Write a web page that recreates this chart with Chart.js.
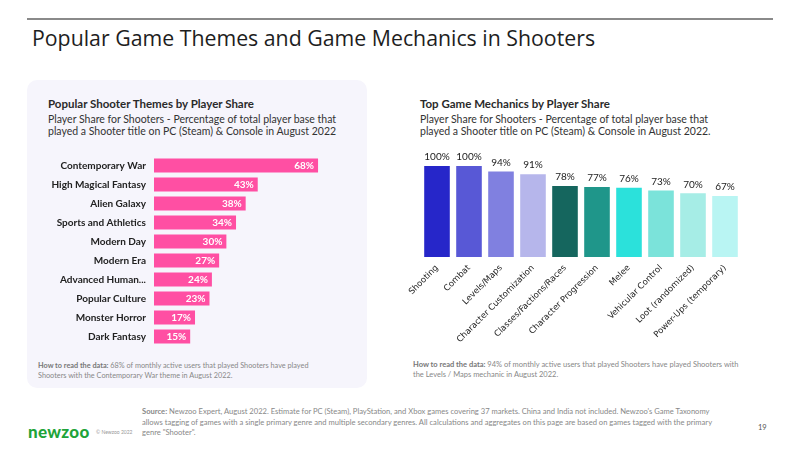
<!DOCTYPE html>
<html>
<head>
<meta charset="utf-8">
<script src="https://cdn.jsdelivr.net/npm/chart.js@4.4.0/dist/chart.umd.min.js"></script>
<style>
  body { margin: 0; width: 800px; height: 449px; background: #fff; position: relative; overflow: hidden; font-family: Lato, "Noto Sans", sans-serif; color: #222; }
  .abs { position: absolute; white-space: nowrap; }
  #rule { left: 27px; top: 18px; width: 746px; height: 2px; background: #8a8a8a; }
  #title { left: 32px; top: 23px; font-family: "Open Sans", sans-serif; font-size: 21.3px; color: #1e1e1e; }
  #panel { left: 27px; top: 80px; width: 340px; height: 308px; background: #f6f5fc; border-radius: 10px; }
  .h { font-size: 11.5px; font-weight: bold; color: #2a2a2a; }
  .sub { font-size: 10.5px; line-height: 11.5px; color: #333; }
  .note { font-size: 7.5px; line-height: 9.5px; color: #888; }
  .note b { color: #777; }
  #src { left: 142px; top: 406px; font-size: 7.6px; line-height: 10.5px; color: #888; }
  #logo { left: 28px; top: 421px; font-size: 17px; font-weight: 900; color: #1fa43a; letter-spacing: 0.3px; }
  #copy { left: 96px; top: 429px; font-size: 5px; color: #999; }
  #page { left: 758px; top: 423px; font-size: 7.5px; color: #555; }
  canvas { position: absolute; }
</style>
</head>
<body>
<div class="abs" id="rule"></div>
<div class="abs" id="title">Popular Game Themes and Game Mechanics in Shooters</div>
<div class="abs" id="panel"></div>

<div class="abs h" style="left:48px;top:97px;">Popular Shooter Themes by Player Share</div>
<div class="abs sub" style="left:48px;top:114px;">Player Share for Shooters - Percentage of total player base that<br>played a Shooter title on PC (Steam) &amp; Console in August 2022</div>

<div class="abs h" style="left:420px;top:97px;">Top Game Mechanics by Player Share</div>
<div class="abs sub" style="left:420px;top:114px;">Player Share for Shooters - Percentage of total player base that<br>played a Shooter title on PC (Steam) &amp; Console in August 2022.</div>

<canvas id="themes" style="left:30px;top:156px;" width="317" height="190"></canvas>
<canvas id="mechanics" style="left:391px;top:150px;" width="350" height="207"></canvas>

<div class="abs note" style="left:38px;top:361px;font-size:7.3px;"><b>How to read the data:</b> 68% of monthly active users that played Shooters have played<br>Shooters with the Contemporary War theme in August 2022.</div>
<div class="abs note" style="left:413px;top:360px;"><b>How to read the data:</b> 94% of monthly active users that played Shooters have played Shooters with<br>the Levels / Maps mechanic in August 2022.</div>

<div class="abs" id="src"><b>Source:</b> Newzoo Expert, August 2022. Estimate for PC (Steam), PlayStation, and Xbox games covering 37 markets. China and India not included. Newzoo's Game Taxonomy<br>allows tagging of games with a single primary genre and multiple secondary genres. All calculations and aggregates on this page are based on games tagged with the primary<br>genre "Shooter".</div>
<div class="abs" id="logo">newzoo</div>
<div class="abs" id="copy">© Newzoo 2022</div>
<div class="abs" id="page">19</div>

<script>
const themeLabels = ['Contemporary War', 'High Magical Fantasy', 'Alien Galaxy', 'Sports and Athletics', 'Modern Day', 'Modern Era', 'Advanced Human...', 'Popular Culture', 'Monster Horror', 'Dark Fantasy'];
const themeValues = [68, 43, 38, 34, 30, 27, 24, 23, 17, 15];

const mechanicLabels = ['Shooting', 'Combat', 'Levels/Maps', 'Character Customization', 'Classes/Factions/Races', 'Character Progression', 'Melee', 'Vehicular Control', 'Loot (randomized)', 'Power-Ups (temporary)'];
const mechanicValues = [100, 100, 94, 91, 78, 77, 76, 73, 70, 67];
const mechanicColors = ['#2626c9', '#5858d6', '#8080e0', '#b6b6eb', '#15665e', '#1f968a', '#2be1db', '#7be3da', '#a6ede6', '#b9f5f3'];

// draws "NN%" on every bar
const valueLabels = {
  id: 'valueLabels',
  afterDatasetsDraw(chart, args, opts) {
    const ctx = chart.ctx;
    const meta = chart.getDatasetMeta(0);
    ctx.save();
    ctx.font = opts.font;
    ctx.fillStyle = opts.color;
    meta.data.forEach((bar, i) => {
      const txt = chart.data.datasets[0].data[i] + '%';
      if (opts.inside) {
        ctx.textAlign = 'right';
        ctx.textBaseline = 'middle';
        ctx.fillText(txt, bar.x - 4, bar.y + 0.5);
      } else {
        ctx.textAlign = 'center';
        ctx.textBaseline = 'bottom';
        ctx.fillText(txt, bar.x, bar.y - 4);
      }
    });
    ctx.restore();
  }
};

// no label overhang padding, so the plot area is exactly where we want it
const noPad = (s) => { s.paddingTop = 0; s.paddingBottom = 0; s.paddingLeft = 0; s.paddingRight = 0; };

new Chart(document.getElementById('themes'), {
  type: 'bar',
  data: {
    labels: themeLabels,
    datasets: [{ data: themeValues, backgroundColor: '#ff4fa3', barPercentage: 0.74, categoryPercentage: 1 }]
  },
  plugins: [valueLabels],
  options: {
    indexAxis: 'y',
    responsive: false,
    animation: false,
    layout: { padding: 0 },
    plugins: {
      legend: { display: false },
      tooltip: { enabled: false },
      valueLabels: { inside: true, color: '#fff', font: 'bold 10px Lato, sans-serif' }
    },
    scales: {
      x: { display: false, min: 0, max: 80 },
      y: {
        grid: { display: false, drawTicks: false },
        border: { display: false },
        afterFit: (s) => { s.width = 124; noPad(s); },
        ticks: { color: '#222', padding: 8, font: { family: 'Lato', size: 10, weight: 'bold' } }
      }
    }
  }
});

new Chart(document.getElementById('mechanics'), {
  type: 'bar',
  data: {
    labels: mechanicLabels,
    datasets: [{ data: mechanicValues, backgroundColor: mechanicColors, barPercentage: 0.8, categoryPercentage: 1 }]
  },
  plugins: [valueLabels],
  options: {
    responsive: false,
    animation: false,
    layout: { padding: { top: 16, left: 30, right: 0, bottom: 0 } },
    plugins: {
      legend: { display: false },
      tooltip: { enabled: false },
      valueLabels: { inside: false, color: '#222', font: '10px Lato, sans-serif' }
    },
    scales: {
      y: { display: false, min: 0, max: 100 },
      x: {
        grid: { display: false, drawTicks: false },
        border: { display: false },
        afterFit: (s) => { s.height = 100; noPad(s); },
        ticks: { color: '#222', padding: 6, minRotation: 45, maxRotation: 45, autoSkip: false, font: { family: 'DejaVu Sans', size: 8.5 } }
      }
    }
  }
});
</script>
</body>
</html>
